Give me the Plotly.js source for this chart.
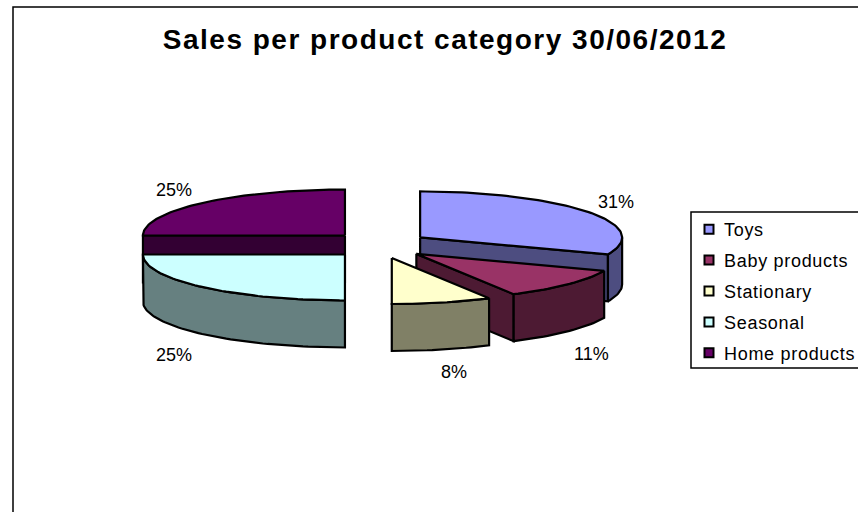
<!DOCTYPE html>
<html>
<head>
<meta charset="utf-8">
<script src="https://cdn.plot.ly/plotly-3.0.1.min.js"></script>
<style>
html,body{margin:0;padding:0;background:#fff}
#chart{width:858px;height:512px}
.gtitle{letter-spacing:1.5px}
.legendtext{letter-spacing:.7px}
.legend .legendpoints{transform:translateX(5px)}
</style>
</head>
<body>
<div id="chart"></div>
<script>
// Sales share per product category
const categories = ["Toys", "Baby products", "Stationary", "Seasonal", "Home products"];
const shares = [31, 11, 8, 25, 25];
const topColors = ["#9999FF", "#993366", "#FFFFCC", "#CCFFFF", "#660066"];
const sideColors = ["#4D4D80", "#4D1A33", "#808066", "#668080", "#330033"];

// Where each percentage label sits on the canvas
const labelX = [616, 591, 454, 174, 174];
const labelY = [202, 354, 372, 355, 190];

// Projection of the tilted, exploded pie, in canvas pixels
const cx = 379.6, cy = 245, rx = 202, ry = 46, depth = 47;
const explodeX = 49, explodeY = 13.4;
const FONT = "Liberation Sans, Arial, sans-serif";
const rad = d => d * Math.PI / 180;
const total = shares.reduce((a, b) => a + b, 0);

// Rim sample points between two angles (clockwise from twelve o'clock)
function arc(ax, ay, a0, a1, dy) {
  const n = Math.max(2, Math.ceil(Math.abs(a1 - a0) / 1.5));
  const pts = [];
  for (let i = 0; i <= n; i++) {
    const t = rad(a0 + (a1 - a0) * i / n);
    pts.push([ax + rx * Math.sin(t), ay - ry * Math.cos(t) + dy]);
  }
  return pts;
}

function polygon(pts, fill) {
  const xs = pts.map(p => p[0]), ys = pts.map(p => p[1]);
  xs.push(xs[0]); ys.push(ys[0]);
  return {
    x: xs, y: ys, type: "scatter", mode: "lines", fill: "toself", fillcolor: fill,
    line: {color: "#000", width: 2.2, shape: "linear"},
    hoverinfo: "skip", showlegend: false
  };
}

// Angular span of every slice
let running = 0;
const slices = shares.map((v, i) => {
  const start = running / total * 360;
  running += v;
  const end = running / total * 360;
  const mid = rad((start + end) / 2);
  return {i, start, end, ax: cx + explodeX * Math.sin(mid), ay: cy - explodeY * Math.cos(mid)};
});

// Legend keys come first so that the legend follows the category order
const traces = categories.map((name, i) => ({
  x: [null], y: [null], type: "scatter", mode: "markers", name,
  legendgroup: name, hoverinfo: "skip",
  marker: {symbol: "square", size: 9, color: topColors[i], line: {color: "#000", width: 2}}
}));

// Painter's order: back slices first, front slices last
[4, 3, 0, 1, 2].forEach(k => {
  const s = slices[k];
  const top = topColors[k], side = sideColors[k];
  const radial = a => {
    const t = rad(a);
    const p = [s.ax + rx * Math.sin(t), s.ay - ry * Math.cos(t)];
    return [[s.ax, s.ay], p, [p[0], p[1] + depth], [s.ax, s.ay + depth]];
  };
  if (Math.sin(rad(s.start)) < -1e-6) traces.push(polygon(radial(s.start), side));
  if (Math.sin(rad(s.end)) > 1e-6) traces.push(polygon(radial(s.end), side));
  const w0 = Math.max(s.start, 90), w1 = Math.min(s.end, 270);
  if (w1 > w0) {
    const upper = arc(s.ax, s.ay, w0, w1, 0);
    const lower = arc(s.ax, s.ay, w1, w0, depth);
    traces.push(polygon(upper.concat(lower), side));
  }
  traces.push(polygon([[s.ax, s.ay]].concat(arc(s.ax, s.ay, s.start, s.end, 0)), top));
});

const layout = {
  width: 858, height: 512,
  margin: {l: 0, r: 0, t: 0, b: 0, autoexpand: false},
  paper_bgcolor: "#fff", plot_bgcolor: "#fff",
  font: {family: FONT, color: "#000"},
  title: {
    text: "<b>Sales per product category 30/06/2012</b>",
    font: {family: FONT, size: 28, color: "#000"},
    x: 445 / 858, xref: "paper", xanchor: "center",
    y: 1 - 39 / 512, yref: "paper", yanchor: "middle"
  },
  xaxis: {range: [0, 858], visible: false, fixedrange: true},
  yaxis: {range: [512, 0], visible: false, fixedrange: true},
  showlegend: true,
  legend: {
    x: 684 / 858, xanchor: "left", y: 1 - 211 / 512, yanchor: "top",
    bgcolor: "rgba(0,0,0,0)", borderwidth: 0,
    font: {family: FONT, size: 18, color: "#000"},
    traceorder: "grouped", tracegroupgap: 4.5, itemclick: false, itemdoubleclick: false
  },
  shapes: [
    {type: "rect", xref: "x", yref: "y", x0: 13, y0: 7, x1: 900, y1: 560,
     line: {color: "#000", width: 1.5}, fillcolor: "rgba(0,0,0,0)", layer: "below"},
    {type: "rect", xref: "x", yref: "y", x0: 691, y0: 212, x1: 900, y1: 368,
     line: {color: "#000", width: 1.5}, fillcolor: "#fff", layer: "below"}
  ],
  annotations: shares.map((v, i) => ({
    text: v + "%", x: labelX[i], y: labelY[i], xref: "x", yref: "y",
    showarrow: false, xanchor: "center", yanchor: "middle",
    font: {family: FONT, size: 18, color: "#000"}
  }))
};

Plotly.newPlot("chart", traces, layout, {displayModeBar: false});
</script>
</body>
</html>
